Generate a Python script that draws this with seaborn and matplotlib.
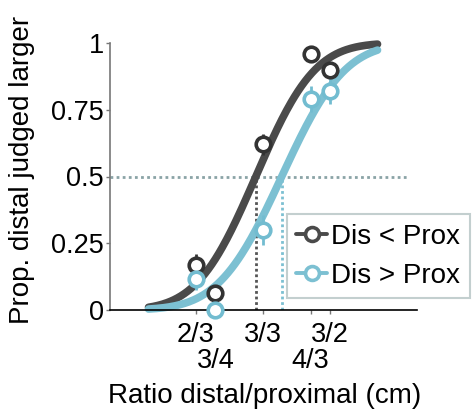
import math
import numpy as np
import pandas as pd
import seaborn as sns
import matplotlib
matplotlib.use("Agg")
import matplotlib.pyplot as plt
from matplotlib.ticker import FixedLocator, FixedFormatter

# ---- data ----
row1_ratios = [2/3, 3/3, 3/2]
row1_labels = ["2/3", "3/3", "3/2"]
row2_ratios = [3/4, 4/3]
row2_labels = ["3/4", "4/3"]
ratios = [2/3, 3/4, 3/3, 4/3, 3/2]
series = ["Dis < Prox", "Dis > Prox"]
dark_vals = [0.17, 0.064, 0.62, 0.96, 0.90]
dark_err = [0.04, 0.03, 0.04, 0.03, 0.03]
light_vals = [0.115, 0.0, 0.30, 0.79, 0.82]
light_err = [0.04, 0.02, 0.055, 0.05, 0.05]
# fitted psychometric functions (cumulative normal on log ratio)
pse_ratio = [0.957, 1.12]
sigma_log = [0.28, 0.30]
curve_range = [0.5, 2.0]

colors = ["#4a4a4a", "#7cc0d2"]
edge_colors = ["#333333", "#72bcd0"]

sns.set_style("white")
plt.rcParams['font.family'] = ['Liberation Sans', 'DejaVu Sans']
plt.rcParams['text.color'] = 'black'
plt.rcParams['axes.labelcolor'] = 'black'

fig = plt.figure(figsize=(4.72, 4.12), dpi=100)
ax = fig.add_axes([110/472, 1-310/412, (417-110)/472, (310-43)/412])

erf = np.vectorize(math.erf)
xs = np.exp(np.linspace(np.log(curve_range[0]), np.log(curve_range[1]), 200))
rows = []
for name, pse, sg in zip(series, pse_ratio, sigma_log):
    z = (np.log(xs) - np.log(pse)) / (sg * math.sqrt(2))
    p = 0.5 * (1 + erf(z))
    rows.append(pd.DataFrame({"x": xs, "p": p, "cond": name}))
curves = pd.concat(rows)

# reference lines
ax.axhline(0.5, xmin=0, xmax=0.97, color="#8aa3a6", ls=(0, (1, 1.2)), lw=2, zorder=1)
for pse, c in zip(pse_ratio, ["#555555", "#7cc0d2"]):
    ax.vlines(pse, 0, 0.5, colors=c, linestyles=(0, (1, 1)), lw=2, zorder=1)

sns.lineplot(data=curves, x="x", y="p", hue="cond", palette=colors, lw=5.5,
             legend=False, ax=ax, zorder=2)
for ln in ax.lines[-2:]:
    ln.set_solid_capstyle("round")
    ln.set_clip_on(False)

handles = []
for vals, err, col, ecol, name in zip([dark_vals, light_vals], [dark_err, light_err],
                                      colors, edge_colors, series):
    eb = ax.errorbar(ratios, vals, yerr=err, fmt="o", ms=10.5, mfc="white",
                     mec=ecol, mew=2.6, ecolor=ecol, elinewidth=2, capsize=0,
                     zorder=4, clip_on=False)
    for art in eb.lines[2]:
        art.set_clip_on(False)
    h, = ax.plot([], [], "-o", color=col, lw=2.8, ms=10, mfc="white", mec=col, mew=2.6)
    handles.append(h)

ax.set_xscale("log")
ax.set_xlim(0.396, 2.54)
ax.set_ylim(0, 1)
ax.xaxis.set_major_locator(FixedLocator(row1_ratios))
ax.xaxis.set_major_formatter(FixedFormatter(row1_labels))
ax.xaxis.set_minor_locator(FixedLocator(row2_ratios))
ax.xaxis.set_minor_formatter(FixedFormatter(row2_labels))
ax.tick_params(axis="x", which="major", labelsize=19.5, length=3, width=1,
               color="#777777", labelcolor="black", pad=5.5, direction="out", bottom=True)
ax.tick_params(axis="x", which="minor", labelsize=19.5, length=3, width=1,
               color="#777777", labelcolor="black", pad=24, direction="out", bottom=True)
ax.set_yticks([0, 0.25, 0.5, 0.75, 1])
ax.set_yticklabels(["0", "0.25", "0.5", "0.75", "1"])
ax.tick_params(axis="y", labelsize=19.5, length=3, width=1, color="#777777",
               labelcolor="black", pad=1.5, direction="out", left=True)

for s in ["top", "right"]:
    ax.spines[s].set_visible(False)
ax.spines["left"].set_color("#777777")
ax.spines["left"].set_linewidth(1.2)
ax.spines["bottom"].set_color("black")
ax.spines["bottom"].set_linewidth(1.2)

ax.set_xlabel("Ratio distal/proximal (cm)", fontsize=20)
ax.xaxis.set_label_coords(0.505, -0.272)
ax.set_ylabel("Prop. distal judged larger", fontsize=20)
ax.yaxis.set_label_coords(-0.245, 0.524)

leg = ax.legend(handles, series, loc="upper left", bbox_to_anchor=(0.575, 0.358),
                fontsize=20, frameon=True, fancybox=False, handlelength=1.1,
                handletextpad=0.15, borderpad=0.35, labelspacing=0.45,
                borderaxespad=0)
leg.get_frame().set_edgecolor("#b5c4c4")
leg.get_frame().set_linewidth(1.5)
leg.set_zorder(5)

fig.savefig("out.png", dpi=100)
